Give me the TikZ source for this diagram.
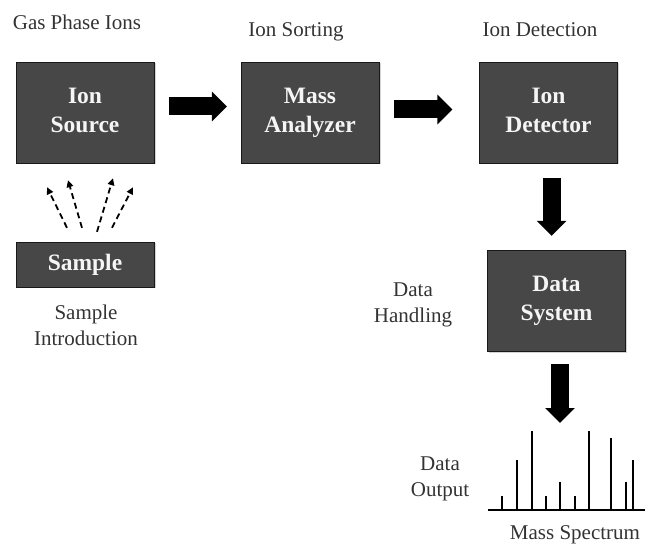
\documentclass[tikz,border=0pt]{standalone}
\usepackage{fontspec}
\setmainfont{Liberation Serif}
\usetikzlibrary{positioning,arrows.meta,shadows}

\begin{document}
\begin{tikzpicture}[x=1pt,y=-1pt,
    unit/.style={draw=black!90,fill=black!72,text=black!4,
      font=\fontsize{23.5}{29}\selectfont\bfseries,align=center,inner sep=0pt,
      minimum width=138pt,minimum height=101pt,
      execute at end node=\vphantom{y},
      drop shadow={opacity=0.35,shadow xshift=1.5pt,shadow yshift=-1.5pt}},
    caption/.style={text=black!80,font=\fontsize{21}{26}\selectfont,
      align=center,inner sep=0pt},
    bigarrow/.style={line width=18pt,-{Triangle[length=15pt,width=29pt]},
      shorten <=15pt,shorten >=14pt},
    dasharrow/.style={line width=1.8pt,dash pattern=on 6pt off 4pt,
      -{Triangle[length=7pt,width=6.5pt]}},
    peak/.style={line width=1.6pt}]

  \useasboundingbox (0,0) rectangle (645,545);

  \node [unit] (ionsrc) at (85,112.5) {Ion\\Source};
  \node [unit] (analyzer) at (310,112.5) {Mass\\Analyzer};
  \node [unit] (detector) at (548.5,112.5) {Ion\\Detector};
  \node [unit,minimum height=45pt] (sample) at (85,264.5) {Sample};
  \node [unit] (datasys) at (556.5,300.5) {Data\\System};

  \node [caption,anchor=base] (gasLbl) at (77,30) {Gas Phase Ions};
  \node [caption,anchor=base] (sortLbl) at (296,37) {Ion Sorting};
  \node [caption,anchor=base] (detectLbl) at (540,37) {Ion Detection};
  \node [caption,anchor=north] (introLbl) at (86,305) {Sample\\Introduction};
  \node [caption,anchor=north] (handleLbl) at (413,283) {Data\\Handling};
  \node [caption,anchor=north] (outputLbl) at (440,457) {Data\\Output};
  \node [caption,anchor=base] (specLbl) at (575,539) {Mass Spectrum};

  \draw [bigarrow] ([yshift=6pt]ionsrc.east) -- ([yshift=6pt]analyzer.west);
  \draw [bigarrow,shorten >=27pt] ([yshift=3pt]analyzer.east)
    -- ([yshift=3pt]detector.west);
  \draw [bigarrow] ([xshift=3pt]detector.south)
    -- ([xshift=3pt]detector.south |- datasys.north);

  \coordinate (specTop) at (560,431);
  \draw [bigarrow,shorten <=13pt,shorten >=8pt] ([xshift=3.5pt]datasys.south)
    -- (specTop);

  \draw [dasharrow] ([xshift=-18pt,yshift=14pt]sample.north)
    -- ([xshift=-38pt,yshift=-24pt]ionsrc.south);
  \draw [dasharrow] ([xshift=-3pt,yshift=14pt]sample.north)
    -- ([xshift=-17pt,yshift=-17pt]ionsrc.south);
  \draw [dasharrow] ([xshift=12pt,yshift=10pt]sample.north)
    -- ([xshift=28pt,yshift=-15pt]ionsrc.south);
  \draw [dasharrow] ([xshift=27pt,yshift=14pt]sample.north)
    -- ([xshift=48pt,yshift=-24pt]ionsrc.south);

  \coordinate (axisL) at (488,510);
  \coordinate (axisR) at (645,510);
  \draw [line width=1.8pt] (axisL) -- (axisR);
  \foreach \px/\py in {502/496,517/460,532/431,546/496,560/482,
                       575/496,589/431,611/438,626/482,633/460}
    \draw [peak] (\px,510) -- (\px,\py);

\end{tikzpicture}
\end{document}
